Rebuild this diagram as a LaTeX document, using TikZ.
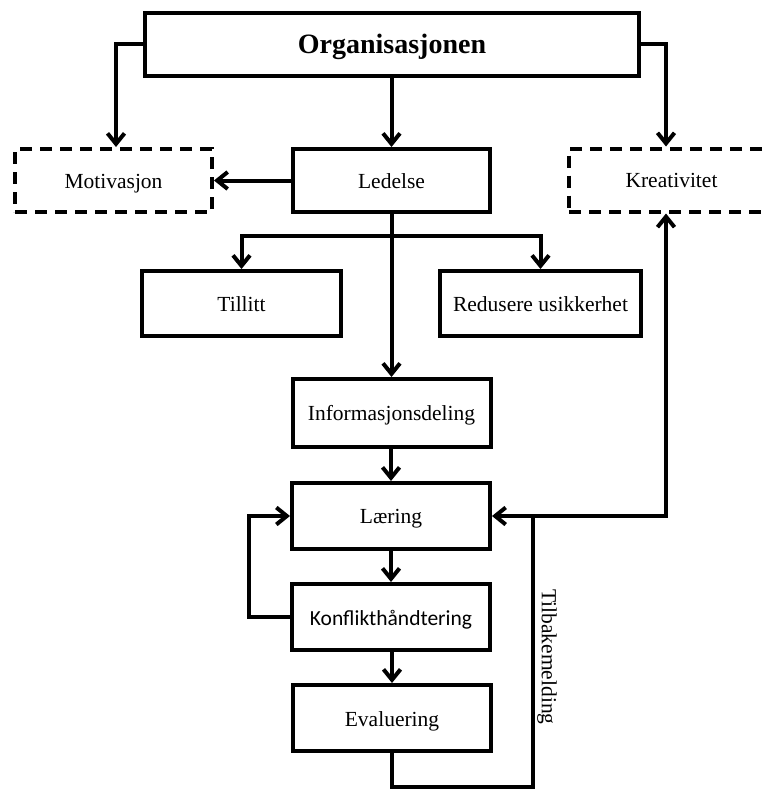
\documentclass[tikz,border=0pt]{standalone}
\usepackage{fontspec}
\setmainfont{Liberation Serif}
\newfontfamily\calibri{Carlito}
\usetikzlibrary{arrows.meta}
\begin{document}
\begin{tikzpicture}[x=1pt,y=-1pt,
  box/.style={draw, line width=4pt, minimum width=198pt, minimum height=65pt, inner sep=0pt,
    text height=15pt, text depth=0pt, font=\fontsize{21.5}{24}\selectfont},
  dbox/.style={box, dash pattern=on 12pt off 8pt},
  conn/.style={line width=4pt},
  arr/.style={conn, -{Straight Barb[length=10.5pt,width=17pt,line width=4pt]}}]
\clip (0,0) rectangle (763,789);
\fill[white] (0,0) rectangle (763,789);
\node[box, minimum width=494pt, minimum height=63pt, text height=18pt, font=\fontsize{28}{30}\selectfont\bfseries] (org) at (392,44.5) {Organisasjonen};
\node[dbox, minimum width=197pt, minimum height=63pt] (mot) at (113.5,180.5) {Motivasjon};
\node[box, minimum width=197pt, minimum height=63pt] (led) at (391.5,180.5) {Ledelse};
\node[dbox, minimum width=205pt, minimum height=63pt] (kre) at (671.5,180) {Kreativitet};
\node[box, minimum width=199pt] (til) at (241.5,303.5) {Tillitt};
\node[box, minimum width=201pt] (red) at (540.5,303.5) {Redusere usikkerhet};
\node[box, minimum height=68pt] (inf) at (391.5,413) {Informasjonsdeling};
\node[box, minimum height=66pt] (lae) at (391,516) {Læring};
\node[box, minimum height=66pt, text height=16pt, font=\fontsize{21.5}{24}\calibri] (kon) at (391,617) {Konflikthåndtering};
\node[box, minimum height=66pt, text height=17pt] (eva) at (392,718) {Evaluering};
\coordinate (mk) at (116,0);
\coordinate (kk) at (666,0);
\coordinate (split) at (391.5,236);
\coordinate (fb) at (533,516);
\coordinate (bl) at (391.5,787);
\coordinate (ll) at (249,0);
\draw[arr] (org.west) -| (mk |- mot.north);
\draw[arr] (org.east) -| (kk |- kre.north);
\draw[arr] (org.south -| led.north) -- (led.north);
\draw[arr] (led.west) -- (mot.east);
\draw[arr] (led.south) -- (inf.north);
\draw[arr] (split) -| (til.north);
\draw[arr] (split) -| (red.north);
\draw[arr] (inf.south -| lae.north) -- (lae.north);
\draw[arr] (lae.south) -- (kon.north);
\draw[arr] (kon.south -| eva.north) -- (eva.north);
\draw[arr] (kon.west) -- (ll |- kon.west) -- (ll |- lae.west) -- (lae.west);
\draw[arr] (eva.south -| bl) -- (bl) -| (fb) -- (lae.east);
\draw[arr] (fb) -| (kk |- kre.south);
\node[rotate=-90, inner sep=0pt, font=\fontsize{21.5}{24}\selectfont] (tb) at (547,657) {Tilbakemelding};
\end{tikzpicture}
\end{document}
